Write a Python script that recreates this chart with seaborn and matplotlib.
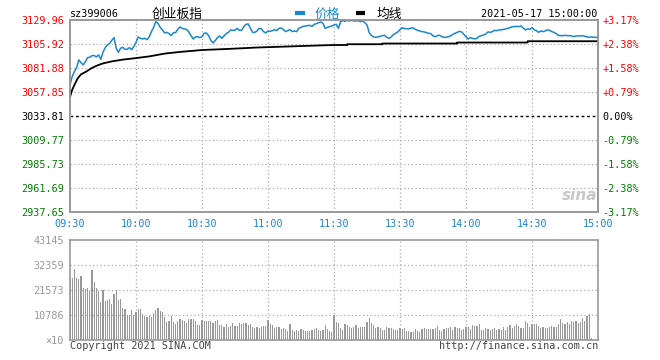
import matplotlib
matplotlib.use('Agg')
import matplotlib.pyplot as plt
from matplotlib.lines import Line2D
import seaborn as sns

# values (minute index 0 = 09:30, 120 = 11:30/13:00, 240 = 15:00)
prev_close = 3033.81

price_am = [3065.0, 3073.3, 3078.3, 3082.3, 3090.0, 3087.3, 3085.0, 3088.3, 3092.3, 3092.6,
            3094.3, 3094.3, 3093.0, 3095.0, 3090.6, 3097.6, 3102.3, 3105.0, 3106.6, 3109.6,
            3112.3, 3101.6, 3097.6, 3101.6, 3102.6, 3100.6, 3100.6, 3102.3, 3100.3, 3103.3,
            3107.6, 3113.0, 3111.6, 3111.0, 3111.6, 3110.3, 3113.0, 3118.3, 3122.6, 3128.3,
            3126.6, 3122.6, 3120.0, 3117.0, 3117.6, 3116.3, 3114.3, 3117.3, 3117.3, 3120.6,
            3123.0, 3121.6, 3121.0, 3120.6, 3118.0, 3114.3, 3111.0, 3113.0, 3113.3, 3112.3,
            3113.3, 3116.6, 3117.0, 3114.3, 3109.6, 3107.0, 3109.3, 3112.3, 3114.0, 3111.6,
            3114.0, 3116.3, 3117.6, 3120.0, 3119.6, 3119.6, 3121.6, 3119.6, 3119.6, 3123.3,
            3125.6, 3126.0, 3121.6, 3117.6, 3117.6, 3119.0, 3121.6, 3121.0, 3118.3, 3117.0,
            3119.0, 3118.6, 3119.3, 3120.3, 3119.3, 3121.6, 3122.0, 3120.3, 3118.3, 3119.3,
            3120.3, 3118.3, 3119.0, 3118.3, 3121.6, 3122.6, 3123.6, 3124.0, 3124.3, 3124.6,
            3123.6, 3125.6, 3126.3, 3127.3, 3128.0, 3126.6, 3121.6, 3122.6, 3123.3, 3124.0,
            3125.0]
price_pm = [3125.6, 3121.6, 3128.3, 3129.3, 3128.6, 3129.6, 3129.0, 3129.6, 3129.0, 3129.0,
            3129.3, 3128.3, 3129.0, 3127.3, 3125.0, 3117.3, 3114.6, 3113.0, 3112.6, 3113.0,
            3113.6, 3114.3, 3114.6, 3112.6, 3111.6, 3113.0, 3115.3, 3116.6, 3118.0, 3120.3,
            3122.3, 3121.3, 3121.3, 3121.0, 3122.0, 3122.0, 3120.6, 3119.6, 3119.0, 3118.3,
            3118.0, 3117.3, 3116.6, 3116.3, 3114.0, 3113.3, 3114.3, 3114.6, 3113.3, 3112.6,
            3112.6, 3113.3, 3114.0, 3115.6, 3116.6, 3117.6, 3118.6, 3118.0, 3115.6, 3113.0,
            3111.0, 3112.3, 3111.6, 3111.0, 3111.6, 3113.6, 3114.3, 3115.0, 3116.0, 3118.0,
            3117.6, 3118.3, 3119.6, 3119.3, 3120.0, 3120.0, 3120.6, 3121.0, 3121.6, 3122.3,
            3123.3, 3123.3, 3123.6, 3123.3, 3124.0, 3122.0, 3120.0, 3121.0, 3120.6, 3122.3,
            3120.0, 3119.3, 3117.6, 3119.0, 3118.3, 3119.0, 3120.0, 3119.6, 3118.3, 3117.6,
            3116.3, 3114.6, 3114.3, 3114.3, 3114.6, 3114.3, 3114.3, 3114.0, 3113.3, 3114.0,
            3114.0, 3114.0, 3114.3, 3113.6, 3113.0, 3112.6, 3113.0, 3112.6, 3112.6, 3112.6]

avg_minutes = [0, 1, 2, 3.5, 5, 7.5, 10, 12.5, 15, 19, 24, 30, 36, 43, 50, 60, 72, 85, 100, 115, 120,
               126, 126, 142, 142, 176, 176, 208, 208, 240]
avg_values = [3053.0, 3060.0, 3065.0, 3071.5, 3075.5, 3078.5, 3082.0, 3084.5, 3086.5, 3088.5,
              3090.3, 3091.8, 3093.5, 3096.3, 3098.0, 3099.9, 3101.0, 3102.4, 3103.5, 3104.6,
              3104.9, 3104.9, 3105.7, 3105.7, 3106.4, 3106.4, 3107.4, 3107.4, 3108.7, 3108.7]

vol_am = [26700, 26714, 30757, 26714, 26281, 27725, 22382, 22093, 22382, 20938,
          30324, 24981, 22382, 20938, 16317, 21660, 16895, 17328, 17761, 15595,
          19927, 21660, 17184, 17761, 14007, 13429, 10830, 10686, 12996, 10686,
          12130, 13429, 13429, 11119, 10541, 10108, 10397, 10108, 11552, 12996,
          14007, 12563, 12274, 10108, 7942, 8231, 10397, 7942, 6931, 8231,
          9097, 8664, 8231, 7509, 9097, 9097, 9097, 8231, 6498, 6498,
          8664, 8375, 8231, 8231, 8231, 7509, 8231, 8664, 6498, 6498,
          5776, 6931, 5776, 6209, 7509, 6209, 6209, 7364, 6931, 7220,
          7509, 6498, 6931, 5776, 5343, 5776, 5054, 5487, 6065, 6065,
          8664, 6931, 6498, 5054, 5776, 5776, 4765, 5343, 4765, 3899,
          6931, 4332, 3899, 4332, 3899, 4765, 4332, 3899, 3899, 3899,
          4332, 4765, 5054, 4332, 3899, 4332, 6498, 4765, 3899, 3610]
vol_pm = [10830, 7942, 7509, 5343, 4332, 6931, 6498, 5776, 5343, 5776,
          6498, 5343, 5776, 5776, 5776, 7942, 9675, 7220, 6498, 5054,
          5632, 5054, 4332, 4332, 5776, 5343, 5343, 4765, 4332, 4332,
          5343, 4765, 5054, 3899, 3899, 3466, 3466, 4765, 3899, 3466,
          4765, 5343, 4765, 4765, 4765, 4765, 5343, 6209, 4332, 3899,
          4765, 5343, 5054, 5776, 4332, 5776, 5343, 5343, 4332, 4765,
          5776, 5632, 4765, 6498, 6065, 6065, 6931, 4332, 4332, 5343,
          4765, 4332, 4765, 5343, 4332, 4765, 4332, 5776, 4332, 5776,
          6498, 5343, 6065, 6931, 6209, 5343, 5343, 8231, 7509, 5776,
          6931, 6931, 6931, 6065, 5054, 5776, 5054, 5343, 5776, 6209,
          5776, 5776, 7076, 8953, 7509, 6931, 7653, 7076, 8231, 7942,
          8231, 7509, 7942, 9675, 8231, 10397, 11119, 722, 0, 0, 0]

price_ticks = [3129.96, 3105.92, 3081.88, 3057.85, 3033.81, 3009.77, 2985.73, 2961.69, 2937.65]
pct_labels = ['+3.17%', '+2.38%', '+1.58%', '+0.79%', '0.00%', '-0.79%', '-1.58%', '-2.38%', '-3.17%']
time_ticks = [0, 30, 60, 90, 120, 150, 180, 210, 240]
time_labels = ['09:30', '10:00', '10:30', '11:00', '11:30', '13:30', '14:00', '14:30', '15:00']
vol_ticks = [0, 10786, 21573, 32359, 43145]
vol_labels = ['×10', '10786', '21573', '32359', '43145']

price = price_am + price_pm
minutes = list(range(len(price)))
volume = vol_am + vol_pm
vol_minutes = list(range(len(volume)))

BLUE = '#1a86d1'
RED = '#ff0000'
GREEN = '#008000'
GRID = '#aaaaaa'
FRAME = '#999999'

sns.set_theme(style='white')
plt.rcParams['font.family'] = ['DejaVu Sans Mono', 'Noto Sans CJK SC']

W, H = 660, 360
fig = plt.figure(figsize=(W / 100, H / 100), dpi=100)
fig.patch.set_facecolor('white')


def box(x0, y0, x1, y1):
    return [x0 / W, 1 - y1 / H, (x1 - x0) / W, (y1 - y0) / H]


ax1 = fig.add_axes(box(70, 20, 598, 212))
ax2 = fig.add_axes(box(70, 240, 598, 340))

# price panel
sns.lineplot(x=minutes, y=price, color=BLUE, lw=1.1, estimator=None, ax=ax1, zorder=3)
sns.lineplot(x=avg_minutes, y=avg_values, color='black', lw=1.3, estimator=None, sort=False,
             ax=ax1, zorder=3)
ax1.set_xlim(0, 240)
ax1.set_ylim(price_ticks[-1], price_ticks[0])
for lv in price_ticks[1:-1]:
    if lv == prev_close:
        ax1.axhline(lv, color='black', lw=1, ls=(0, (2, 2)), zorder=2)
    else:
        ax1.axhline(lv, color=GRID, lw=0.9, ls=(0, (1, 2)), zorder=1)
for t in time_ticks[1:-1]:
    ax1.axvline(t, color=GRID, lw=0.9, ls=(0, (1, 2)), zorder=1)

ax1.set_yticks(price_ticks)
ax1.set_yticklabels([f'{v:.2f}' for v in price_ticks])
ax1.set_xticks(time_ticks)
ax1.set_xticklabels(time_labels)
ax1.tick_params(axis='both', length=0, labelsize=7.3)
ax1.tick_params(axis='y', pad=4.3)
ax1.tick_params(axis='x', pad=5, labelcolor=BLUE)


def level_color(v):
    if v > prev_close:
        return RED
    if v < prev_close:
        return GREEN
    return 'black'


for lab, v in zip(ax1.get_yticklabels(), price_ticks):
    lab.set_color(level_color(v))

ax1r = ax1.twinx()
ax1r.set_ylim(ax1.get_ylim())
ax1r.set_yticks(price_ticks)
ax1r.set_yticklabels(pct_labels)
ax1r.tick_params(axis='y', length=0, labelsize=7.3, pad=3.4)
for lab, v in zip(ax1r.get_yticklabels(), price_ticks):
    lab.set_color(level_color(v))
ax1r.grid(False)

for a in (ax1, ax1r):
    a.set_xlabel('')
    a.set_ylabel('')
    for s in a.spines.values():
        s.set_color(FRAME)
        s.set_linewidth(1.2)

# volume panel
sns.barplot(x=vol_minutes, y=volume, native_scale=True, width=0.5, color='#999999',
            saturation=1, errorbar=None, linewidth=0, ax=ax2, zorder=2)
for p in ax2.patches:
    p.set_antialiased(False)
ax2.set_xlim(0, 240)
ax2.set_ylim(0, vol_ticks[-1])
for lv in vol_ticks[1:-1]:
    ax2.axhline(lv, color=GRID, lw=0.9, ls=(0, (1, 2)), zorder=1)
for t in time_ticks[1:-1]:
    ax2.axvline(t, color=GRID, lw=0.9, ls=(0, (1, 2)), zorder=1)
ax2.set_xticks([])
ax2.set_yticks(vol_ticks)
ax2.set_yticklabels(vol_labels)
ax2.tick_params(axis='y', length=0, labelsize=7.3, pad=4.3, labelcolor='#999999')
ax2.set_xlabel('')
ax2.set_ylabel('')
for s in ax2.spines.values():
    s.set_color(FRAME)
    s.set_linewidth(1.2)


def fx(x):
    return x / W


def fy(y):
    return 1 - y / H


# header
fig.text(fx(70), fy(14), 'sz399006', fontsize=7.3, color='black', va='center', ha='left')
fig.text(fx(177), fy(14), '创业板指', fontsize=9.2, color='black', va='center', ha='center',
         family=['Noto Sans CJK SC', 'DejaVu Sans'])
fig.add_artist(Line2D([fx(295), fx(305)], [fy(13), fy(13)], transform=fig.transFigure,
                      color=BLUE, lw=3, solid_capstyle='butt'))
fig.text(fx(315), fy(14), '价格', fontsize=9.2, color=BLUE, va='center', ha='left',
         family=['Noto Sans CJK SC', 'DejaVu Sans'])
fig.add_artist(Line2D([fx(356), fx(365)], [fy(13), fy(13)], transform=fig.transFigure,
                      color='black', lw=3, solid_capstyle='butt'))
fig.text(fx(377), fy(14), '均线', fontsize=9.2, color='black', va='center', ha='left',
         family=['Noto Sans CJK SC', 'DejaVu Sans'])
fig.text(fx(597), fy(14), '2021-05-17 15:00:00', fontsize=7.3, color='black',
         va='center', ha='right')

# watermark and footer
fig.text(fx(580), fy(195), 'sina', fontsize=11, color='#c8c8c8', style='italic',
         weight='bold', va='center', ha='center', family=['DejaVu Sans'])
fig.text(fx(70), fy(346), 'Copyright 2021 SINA.COM', fontsize=7.3, color='#444444',
         va='center', ha='left')
fig.text(fx(598), fy(346), 'http://finance.sina.com.cn', fontsize=7.3, color='#444444',
         va='center', ha='right')

fig.savefig('out.png', dpi=100, facecolor='white')
